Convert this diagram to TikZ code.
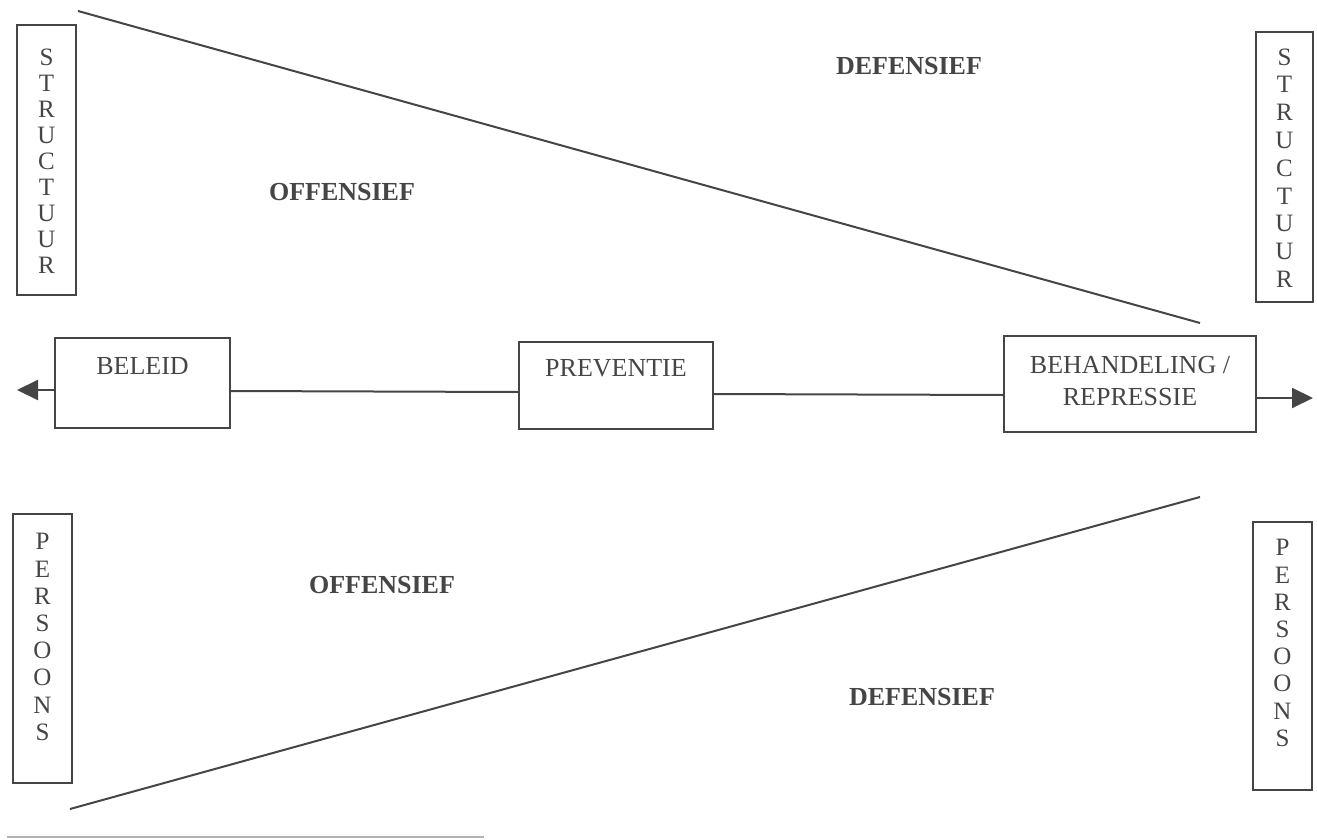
\documentclass[tikz,border=0pt]{standalone}
\usepackage{fontspec}
\setmainfont{Liberation Serif}
\usetikzlibrary{arrows.meta}
\definecolor{ink}{gray}{0.27}
\begin{document}
\begin{tikzpicture}[x=0.5pt,y=-0.5pt,
    box/.style={draw=ink,line width=1pt,inner sep=0pt},
    txt/.style={text=ink,font=\fontsize{13}{16}\selectfont,align=center},
    zone/.style={text=ink,font=\fontsize{13}{16}\selectfont\bfseries},
    vtxt/.style={text=ink,font=\fontsize{12.5}{13.6}\selectfont,align=center},
    edge/.style={draw=ink,line width=1pt},
    tip/.style={-{Triangle[length=10.5pt,width=10pt]}}]
  \useasboundingbox (0,0) rectangle (1317,840);

  % side boxes
  \node[box,minimum width=29.5pt,minimum height=135pt] (strucL) at (46.5,160) {};
  \node[vtxt,font=\fontsize{12.5}{13}\selectfont] (strucLtxt) at (46.5,161) {S\\T\\R\\U\\C\\T\\U\\U\\R};
  \node[box,minimum width=28.5pt,minimum height=135pt] (strucR) at (1284.5,167) {};
  \node[vtxt,font=\fontsize{12.5}{13.9}\selectfont] (strucRtxt) at (1284.5,168) {S\\T\\R\\U\\C\\T\\U\\U\\R};
  \node[box,minimum width=29.5pt,minimum height=134.5pt] (persL) at (42.5,648.5) {};
  \node[vtxt] (persLtxt) at (42.5,637) {P\\E\\R\\S\\O\\O\\N\\S};
  \node[box,minimum width=29.5pt,minimum height=134pt] (persR) at (1282.5,656) {};
  \node[vtxt] (persRtxt) at (1282.5,643) {P\\E\\R\\S\\O\\O\\N\\S};

  % middle row
  \node[box,minimum width=87.5pt,minimum height=45pt] (beleid) at (142.5,383) {};
  \node[txt] (beleidtxt) at (142.5,366) {BELEID};
  \node[box,minimum width=97pt,minimum height=43.5pt] (preventie) at (616,385.5) {};
  \node[txt] (preventietxt) at (616,368) {PREVENTIE};
  \node[box,minimum width=126pt,minimum height=48pt] (behandeling) at (1130,384) {};
  \node[txt] (behandelingtxt) at (1130,381) {BEHANDELING /\\REPRESSIE};

  \coordinate (ltip) at (17,390);
  \coordinate (rtip) at (1313,398);
  \draw[edge,tip] (beleid.west |- 0,390) -- (ltip);
  \draw[edge] (beleid.east |- 0,391) -- (preventie.west |- 0,392);
  \draw[edge] (preventie.east |- 0,394) -- (behandeling.west |- 0,395);
  \draw[edge,tip] (behandeling.east |- 0,398) -- (rtip);

  % wedges
  \coordinate (topL) at (78,11);
  \coordinate (topR) at (1200,323);
  \coordinate (botL) at (70,809);
  \coordinate (botR) at (1200,497);
  \draw[edge] (topL) -- (topR);
  \draw[edge] (botL) -- (botR);

  \node[zone] (defTop) at (909,66) {DEFENSIEF};
  \node[zone] (offTop) at (342,192) {OFFENSIEF};
  \node[zone] (offBot) at (382,585) {OFFENSIEF};
  \node[zone] (defBot) at (922,697) {DEFENSIEF};

  % rule at foot
  \coordinate (ruleL) at (7,837);
  \coordinate (ruleR) at (484,837);
  \draw[gray!60,line width=1pt] (ruleL) -- (ruleR);
\end{tikzpicture}
\end{document}
